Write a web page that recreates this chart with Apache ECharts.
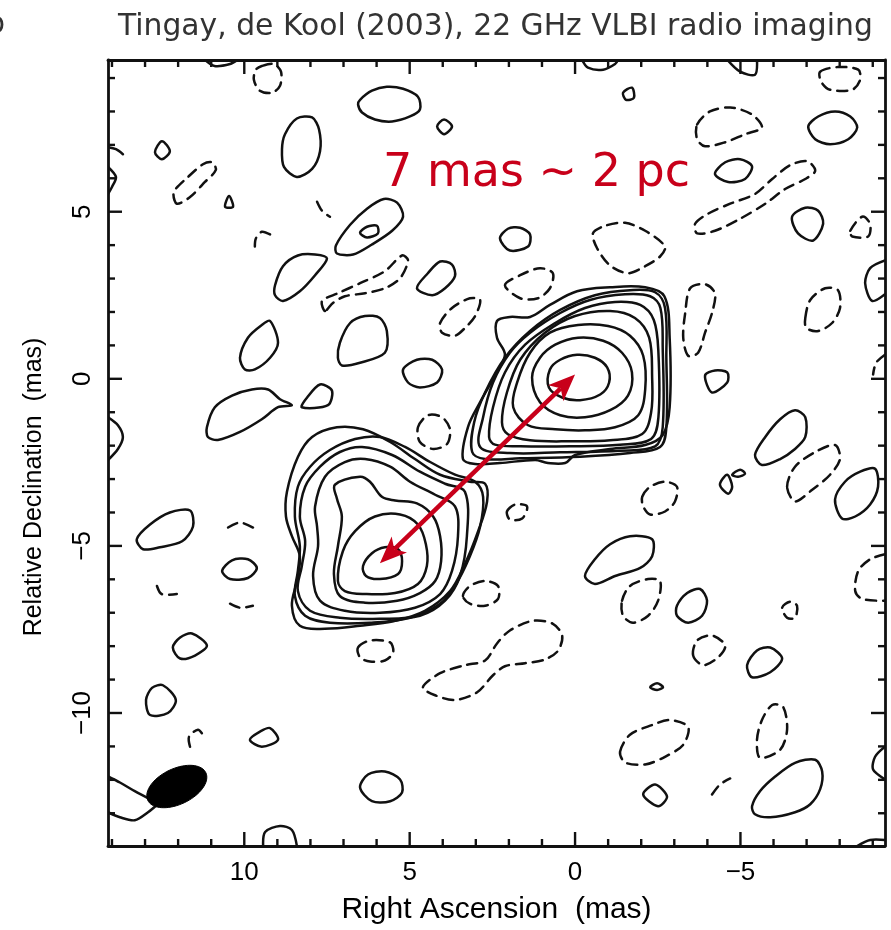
<!DOCTYPE html>
<html><head><meta charset="utf-8">
<script src="https://cdn.jsdelivr.net/npm/echarts@6/dist/echarts.min.js"></script>
<style>html,body{margin:0;padding:0;background:#fff}#c{width:891px;height:930px}</style>
</head><body><div id="c"></div>
<script>
// ---- axes (mas) ----
const raRange = [-9.37, 14.12];
const decRange = [-13.98, 9.54];
const raMajorTicks = [10, 5, 0, -5];
const raMinorTicks = [14,13,12,11,9,8,7,6,4,3,2,1,-1,-2,-3,-4,-6,-7,-8,-9];
const decMajorTicks = [5, 0, -5, -10];
const decMinorTicks = [9,8,7,6,4,3,2,1,-1,-2,-3,-4,-6,-7,-8,-9,-11,-12,-13];

// ---- texts ----
const titleText = 'Tingay, de Kool (2003), 22 GHz VLBI radio imaging';
const scaleText = '7 mas ~ 2 pc';
const raName = 'Right Ascension  (mas)';
const decName = 'Relative Declination  (mas)';

// ---- core contours (RA, Dec in mas) ----
const coreRings = [
 [[0.76,0.28],[0.45,0.57],[-0.06,0.72],[-0.6,0.63],[-0.97,0.34],[-1.03,-0.11],[-0.76,-0.47],[-0.15,-0.64],[0.39,-0.56],[0.79,-0.26]],
 [[1.3,0.04],[1.06,0.63],[0.6,1.02],[-0.09,1.23],[-0.85,1.14],[-1.42,0.78],[-1.72,0.19],[-1.6,-0.5],[-1.06,-0.94],[-0.3,-1.15],[0.45,-1.09],[1.06,-0.7]],
 [[1.87,-0.85],[1.75,-0.11],[1.36,0.78],[0.76,1.38],[-0.09,1.61],[-1.0,1.58],[-1.66,1.29],[-2.06,0.69],[-2.12,-0.32],[-1.91,-1.09],[-1.21,-1.45],[-0.3,-1.54],[0.6,-1.51],[1.42,-1.39]],
 [[2.21,-1.3],[2.06,-0.41],[1.66,0.57],[0.91,1.38],[0,1.88],[-1.06,2.03],[-1.81,1.82],[-2.24,1.23],[-2.33,0.04],[-2.3,-1.0],[-2.03,-1.65],[-1.06,-1.84],[0.15,-1.87],[1.36,-1.84],[2.03,-1.66]],
 [[2.6,-1.74],[2.48,-0.85],[2.12,0.19],[1.51,1.02],[0.6,1.67],[-0.3,2.12],[-1.21,2.3],[-1.97,2.21],[-2.38,1.76],[-2.52,0.78],[-2.52,-1.15],[-2.3,-1.8],[-1.36,-1.97],[0.15,-2.02],[1.66,-2.02],[2.42,-1.97]],
 [[2.87,-2.04],[2.78,-1.15],[2.48,-0.11],[1.97,0.78],[1.36,1.38],[0.45,1.97],[-0.45,2.36],[-1.51,2.53],[-2.27,2.47],[-2.58,2.12],[-2.65,0.93],[-2.65,-1.45],[-2.42,-2.02],[-1.36,-2.15],[0.45,-2.2],[1.97,-2.22]],
 [[3.11,-2.19],[3.05,-1.3],[2.72,-0.41],[2.12,0.63],[1.36,1.43],[0.45,2.06],[-0.6,2.5],[-1.66,2.65],[-2.42,2.59],[-2.72,2.12],[-2.76,0.63],[-2.76,-1.45],[-2.57,-2.04],[-1.66,-2.22],[-0.15,-2.33],[1.66,-2.38],[2.72,-2.4]],
 [[3.39,-2.4],[3.24,-1.45],[2.87,-0.7],[2.42,0.1],[2.12,0.72],[2.36,1.23],[2.36,1.73],[1.97,1.85],[1.36,1.85],[0.76,2.21],[-0.06,2.62],[-1.06,2.74],[-2.12,2.74],[-2.7,2.47],[-2.86,1.23],[-2.86,-0.85],[-2.65,-1.68],[-2.12,-1.98],[-1.06,-2.1],[0,-2.28],[0.3,-2.52],[0.82,-2.52],[1.21,-2.43],[2.27,-2.52],[3.02,-2.55]]
];

// ---- jet component contours ----
const jetRings = [
 [[6.41,-5.6],[6.14,-5.22],[5.75,-5.04],[5.35,-5.1],[5.23,-5.46],[5.35,-5.84],[5.9,-5.99],[6.32,-5.9]],
 [[7.17,-6.05],[7.02,-5.16],[6.65,-4.56],[6.05,-4.12],[5.29,-4.06],[4.75,-4.36],[4.51,-4.95],[4.48,-5.6],[4.75,-6.14],[5.44,-6.41],[6.35,-6.44],[6.96,-6.35]],
 [[7.26,-3.17],[6.5,-2.93],[6.2,-3.08],[5.84,-3.53],[5.44,-3.64],[4.78,-3.73],[4.29,-4.12],[4.08,-4.71],[4.05,-5.46],[4.23,-6.05],[4.69,-6.41],[5.38,-6.64],[6.35,-6.7],[7.11,-6.5],[7.29,-5.84],[7.17,-5.01],[7.05,-4.12],[7.2,-3.58]],
 [[7.86,-3.82],[7.56,-2.93],[6.96,-2.49],[6.35,-2.4],[5.59,-2.63],[4.99,-3.08],[4.23,-3.47],[3.63,-3.82],[3.54,-4.71],[3.72,-5.75],[4.08,-6.44],[4.84,-6.85],[5.9,-7.0],[6.96,-6.94],[7.71,-6.64],[7.92,-5.9],[7.77,-5.01],[7.8,-4.42]],
 [[8.32,-4.12],[8.16,-3.23],[7.71,-2.63],[7.11,-2.19],[6.44,-2.04],[5.53,-2.28],[4.69,-2.78],[3.93,-3.14],[3.33,-3.38],[3.27,-4.71],[3.48,-5.9],[3.93,-6.64],[4.69,-7.09],[5.9,-7.18],[7.11,-7.15],[8.01,-6.94],[8.38,-6.35],[8.26,-5.6],[8.16,-4.86]],
 [[8.47,-4.12],[8.38,-3.23],[8.01,-2.63],[7.41,-2.13],[6.65,-1.8],[5.9,-1.74],[5.14,-2.04],[4.38,-2.49],[3.63,-2.87],[3.02,-3.08],[2.78,-3.53],[2.87,-4.42],[3.18,-5.31],[3.63,-6.2],[4.08,-6.73],[4.99,-7.15],[6.2,-7.3],[7.41,-7.3],[8.16,-7.09],[8.47,-6.5],[8.38,-5.75],[8.32,-5.01]],
 [[8.71,-3.38],[8.38,-2.34],[7.95,-1.74],[7.2,-1.45],[6.41,-1.51],[5.59,-1.89],[4.84,-2.4],[4.08,-2.87],[3.18,-3.08],[2.72,-3.14],[2.66,-3.67],[2.93,-4.56],[3.33,-5.54],[3.78,-6.35],[4.54,-6.94],[5.44,-7.24],[6.5,-7.39],[7.56,-7.48],[8.32,-7.39],[8.56,-6.79],[8.41,-6.05],[8.32,-5.31],[8.56,-4.71],[8.74,-4.12]]
];

// ---- isolated positive (solid) contours ----
const positiveIslands = [
 [[6.5,8.35],[6.14,8.62],[5.69,8.74],[5.2,8.68],[4.75,8.44],[4.69,8.06],[4.99,7.85],[5.53,7.7],[6.05,7.76],[6.44,7.97],[6.56,8.21]],
 [[4.17,7.55],[3.96,7.76],[3.72,7.55],[3.96,7.32]],
 [[8.77,7.32],[8.41,7.79],[7.95,7.82],[7.74,7.46],[7.71,6.81],[7.95,6.28],[8.41,6.04],[8.8,6.34],[8.86,6.87]],
 [[12.7,6.78],[12.49,7.11],[12.25,6.81],[12.49,6.57]],
 [[10.58,5.15],[10.46,5.47],[10.34,5.15]],
 [[7.23,3.99],[6.8,4.61],[6.29,5.09],[5.78,5.38],[5.38,5.27],[5.2,4.85],[5.53,4.43],[6.14,4.02],[6.71,3.72],[7.2,3.75]],
 [[6.5,4.37],[6.29,4.55],[5.99,4.58],[5.96,4.35],[6.29,4.23]],
 [[9.07,2.8],[8.83,3.37],[8.38,3.69],[7.86,3.72],[7.5,3.6],[7.86,3.1],[8.32,2.62],[8.83,2.33],[9.07,2.5]],
 [[4.78,2.71],[4.45,3.16],[4.08,3.51],[3.72,3.42],[3.63,3.07],[3.93,2.71],[4.32,2.5]],
 [[10.13,0.63],[9.89,1.23],[9.47,1.61],[9.22,1.73],[8.98,1.08],[9.22,0.63],[9.68,0.28],[9.98,0.28]],
 [[7.11,1.08],[6.8,1.67],[6.35,1.88],[5.9,1.82],[5.69,1.43],[5.75,0.78],[6.5,0.48],[7.05,0.4],[7.17,0.63]],
 [[-1.45,8.56],[-1.72,8.71],[-1.78,8.41],[-1.54,8.35]],
 [[-7.05,7.55],[-7.35,7.85],[-7.86,8.0],[-8.32,7.85],[-8.53,7.52],[-8.26,7.17],[-7.71,7.02],[-7.26,7.17]],
 [[-4.23,6.13],[-4.54,6.48],[-4.99,6.57],[-5.35,6.36],[-5.14,5.98],[-4.63,5.89]],
 [[-6.56,4.85],[-6.96,5.12],[-7.35,5.03],[-7.5,4.64],[-7.2,4.14],[-6.74,4.35]],
 [[2.27,4.2],[2.03,4.49],[1.66,4.52],[1.36,4.32],[1.42,3.96],[1.97,3.84]],
 [[11.13,-1.45],[10.89,-0.85],[10.37,-0.5],[9.77,-0.32],[9.28,-0.32],[8.92,-0.61],[8.56,-0.79],[8.98,-0.85],[9.47,-1.21],[10.13,-1.59],[10.8,-1.83],[11.1,-1.74]],
 [[8.26,-0.85],[8.1,-0.56],[7.71,-0.17],[7.35,-0.35],[7.47,-0.79]],
 [[5.2,0.28],[4.78,0.57],[4.32,0.57],[4.02,0.28],[4.17,-0.11],[4.69,-0.26],[5.05,-0.11]],
 [[13.25,-4.8],[12.85,-4.36],[12.25,-4.0],[11.64,-3.94],[11.55,-4.42],[11.88,-4.86],[12.55,-5.04],[13.06,-5.1]],
 [[10.67,-5.75],[10.37,-5.43],[9.89,-5.4],[9.62,-5.66],[9.89,-5.96],[10.43,-5.99]],
 [[-3.93,0.1],[-4.23,0.25],[-4.6,0.19],[-4.6,-0.11],[-4.14,-0.41]],
 [[-5.44,-2.28],[-5.75,-1.74],[-6.2,-1.21],[-6.65,-0.94],[-6.96,-1.15],[-6.96,-1.74],[-6.65,-2.1],[-6.2,-2.4],[-5.65,-2.58]],
 [[-4.38,-3.17],[-4.6,-2.87],[-4.75,-3.23],[-4.63,-3.44]],
 [[-4.75,-2.87],[-4.99,-2.72],[-5.14,-2.84],[-4.93,-2.93]],
 [[-7.86,-3.61],[-8.16,-3.08],[-8.62,-2.78],[-9.07,-2.69],[-9.16,-3.23],[-8.92,-3.76],[-8.47,-4.12],[-8.07,-4.18]],
 [[-0.3,-5.9],[-0.6,-5.4],[-1.06,-4.95],[-1.66,-4.71],[-2.33,-4.8],[-2.33,-5.31],[-1.97,-5.66],[-1.21,-5.9],[-0.6,-6.14]],
 [[-3.08,-6.79],[-3.39,-6.41],[-3.78,-6.29],[-3.99,-6.64],[-3.84,-7.09],[-3.42,-7.3],[-3.08,-7.09]],
 [[-5.2,-8.57],[-5.5,-8.13],[-5.9,-8.04],[-6.26,-8.37],[-5.9,-8.78],[-5.35,-8.93]],
 [[-2.27,-9.23],[-2.48,-9.11],[-2.66,-9.23],[-2.48,-9.31]],
 [[-2.06,-12.44],[-2.42,-12.14],[-2.78,-12.5],[-2.51,-12.79]],
 [[-5.35,-12.79],[-5.59,-12.34],[-6.05,-11.9],[-6.65,-11.49],[-7.26,-11.4],[-7.47,-11.75],[-7.41,-12.28],[-7.11,-12.73],[-6.65,-12.97],[-5.9,-13.12],[-5.44,-13.03]],
 [[12.16,-8.04],[11.94,-7.74],[11.58,-7.62],[11.13,-7.98],[11.49,-8.28],[11.94,-8.37]],
 [[12.97,-9.61],[12.79,-9.25],[12.46,-9.17],[12.07,-9.61],[12.31,-10.0],[12.85,-10.06]],
 [[9.83,-10.8],[9.53,-10.56],[9.22,-10.45],[8.98,-10.8],[9.47,-11.01]],
 [[6.5,-12.23],[6.26,-11.84],[5.75,-11.75],[5.29,-11.99],[5.23,-12.38],[5.59,-12.64],[6.14,-12.64]]
];

// ---- isolated negative (dashed) contours ----
const negativeIslands = [
 [[9.47,9.36],[9.1,9.42],[8.89,9.19],[8.92,8.77],[9.16,8.56],[9.53,8.62],[9.71,8.95],[9.65,9.25]],
 [[12.04,5.24],[12.13,5.59],[11.7,6.04],[11.25,6.42],[10.98,6.48],[10.86,6.25],[11.19,5.89],[11.64,5.44]],
 [[7.56,2.03],[7.65,2.33],[7.17,2.56],[6.5,2.86],[5.75,3.22],[5.23,3.69],[5.05,3.54],[5.29,3.01],[5.75,2.71],[6.35,2.56],[6.96,2.47],[7.32,2.27]],
 [[4.08,1.67],[3.72,2.12],[3.18,2.41],[2.87,2.36],[3.02,1.88],[3.33,1.52],[3.63,1.29],[4.02,1.38]],
 [[-7.41,9.19],[-7.95,9.33],[-8.56,9.25],[-8.62,8.95],[-8.38,8.65],[-7.71,8.65],[-7.44,8.89]],
 [[-3.69,7.61],[-4.08,8.0],[-4.69,8.12],[-5.35,7.91],[-5.65,7.52],[-5.14,7.32],[-4.54,7.08],[-3.93,6.96],[-3.69,7.17]],
 [[-3.63,4.64],[-4.02,4.94],[-4.69,5.24],[-5.44,5.53],[-5.96,5.98],[-6.5,6.39],[-7.02,6.51],[-7.26,6.22],[-6.96,5.98],[-6.35,5.68],[-5.75,5.24],[-4.99,4.79],[-4.23,4.43],[-3.69,4.35]],
 [[-8.32,4.43],[-8.68,4.85],[-8.92,4.64],[-8.86,4.26],[-8.38,4.26]],
 [[-0.54,4.35],[-0.91,4.58],[-1.51,4.67],[-2.12,4.43],[-2.72,3.96],[-2.57,3.66],[-2.12,3.37],[-1.6,3.16],[-1.06,3.39],[-0.67,3.9]],
 [[2.12,2.8],[1.66,3.1],[1.06,3.31],[0.67,3.16],[0.76,2.71],[1.12,2.41],[1.66,2.41]],
 [[-3.48,2.71],[-3.93,2.83],[-4.23,2.56],[-4.14,1.97],[-3.93,1.38],[-3.72,0.78],[-3.42,0.69],[-3.27,1.23],[-3.33,1.97]],
 [[-6.96,1.82],[-7.11,2.36],[-7.56,2.71],[-7.95,2.65],[-8.01,2.12],[-7.77,1.67],[-7.35,1.43],[-6.99,1.52]],
 [[4.75,-1.45],[4.45,-1.09],[4.02,-1.15],[3.78,-1.51],[3.87,-1.95],[4.29,-2.1],[4.69,-1.89]],
 [[3.39,-6.5],[3.18,-6.2],[2.72,-6.05],[2.33,-6.2],[2.33,-6.59],[2.72,-6.79],[3.18,-6.73]],
 [[-6.41,-3.23],[-6.65,-2.63],[-7.26,-2.19],[-7.86,-1.98],[-8.01,-2.4],[-7.71,-2.87],[-7.17,-3.32],[-6.65,-3.67]],
 [[-2.03,-3.53],[-2.27,-3.23],[-2.72,-3.08],[-3.08,-3.23],[-3.02,-3.67],[-2.72,-3.97],[-2.27,-4.06],[-2.06,-3.82]],
 [[2.06,-3.97],[1.81,-3.76],[1.45,-3.82],[1.6,-4.18],[1.97,-4.21]],
 [[-1.42,-6.64],[-1.66,-6.2],[-2.21,-5.99],[-2.57,-6.05],[-2.51,-6.64],[-2.21,-7.09],[-1.75,-7.3],[-1.45,-7.09]],
 [[-6.26,-6.85],[-6.5,-6.67],[-6.71,-6.79],[-6.65,-7.15],[-6.41,-7.15]],
 [[4.6,-9.23],[4.08,-8.81],[3.33,-8.57],[2.72,-8.43],[2.36,-7.92],[1.97,-7.53],[1.27,-7.24],[0.67,-7.33],[0.39,-7.68],[0.51,-8.13],[0.91,-8.4],[1.51,-8.51],[2.12,-8.6],[2.48,-8.87],[2.96,-9.38],[3.63,-9.61],[4.23,-9.47]],
 [[-3.57,-8.28],[-3.69,-7.83],[-4.14,-7.68],[-4.54,-7.98],[-4.32,-8.34],[-3.87,-8.57]],
 [[-1.36,-11.16],[-1.66,-10.65],[-2.33,-10.36],[-2.87,-10.21],[-3.42,-10.42],[-3.27,-10.95],[-2.72,-11.31],[-2.12,-11.54],[-1.51,-11.48]],
 [[-5.5,-10.8],[-5.65,-10.21],[-5.96,-9.76],[-6.29,-9.82],[-6.41,-10.5],[-6.2,-11.1],[-5.59,-11.34]],
 [[6.56,-8.04],[6.2,-7.83],[5.59,-7.89],[5.5,-8.19],[5.75,-8.43],[6.2,-8.46],[6.5,-8.34]]
];

// ---- open contour pieces (cut by the map edge or fragmentary) ----
const positiveOpen = [
 [[11.2,9.55],[10.9,9.36],[10.43,9.42],[10.2,9.55]],
 [[14.12,6.93],[13.88,6.87],[13.67,6.72]],
 [[14.12,6.34],[13.88,6.04],[14.0,5.74],[14.12,5.53]],
 [[-0.21,9.55],[-0.39,9.31],[-0.85,9.25],[-1.21,9.42],[-1.3,9.55]],
 [[-4.6,9.55],[-4.99,9.19],[-5.44,9.1],[-5.5,9.55]],
 [[-9.37,3.54],[-8.92,3.31],[-8.77,2.86],[-8.98,2.33],[-9.37,2.53]],
 [[14.12,-1.15],[13.82,-1.39],[13.67,-1.74],[13.82,-2.1],[14.12,-2.43]],
 [[-9.37,-11.01],[-9.07,-11.31],[-9.01,-11.69],[-9.37,-11.99]],
 [[-8.53,-13.98],[-8.92,-13.8],[-9.37,-13.8]],
 [[14.12,-11.9],[13.76,-12.08],[13.31,-12.34],[12.85,-12.58]],
 [[14.12,-12.97],[13.76,-13.12],[13.31,-13.21],[12.91,-12.97],[12.55,-12.67]],
 [[9.43,-13.98],[9.37,-13.56],[8.92,-13.38],[8.56,-13.5],[8.41,-13.98]]
];
const negativeOpen = [
 [[7.8,5.3],[7.65,5.03],[7.41,4.85]],
 [[9.22,4.32],[9.47,4.4],[9.65,4.2],[9.68,3.96]],
 [[10.49,-4.45],[10.13,-4.3],[9.68,-4.48]],
 [[12.64,-6.2],[12.5,-6.44],[12.04,-6.44]],
 [[10.43,-6.73],[10.13,-6.85],[9.74,-6.79]],
 [[-9.37,0.72],[-9.1,0.48],[-9.01,0.13]],
 [[-9.37,-5.25],[-8.92,-5.4],[-8.56,-5.75],[-8.47,-6.35],[-8.68,-6.59],[-9.37,-6.64]],
 [[-4.14,-12.44],[-4.38,-12.14],[-4.69,-11.96]],
 [[11.64,-11.01],[11.67,-10.71],[11.4,-10.5],[11.25,-10.65]]
];

// ---- restoring beam and scale arrow ----
const beam = { ra: 12.04, dec: -12.2, major: 1.94, minor: 1.07, pa: -65 };
const arrowEnds = [[0.0, 0.13], [5.9, -5.52]];

const INK = '#111';
const RED = '#c8001a';

function contourSeries(name, polys, closed, dashed, smooth) {
  return {
    type: 'custom', name: name, coordinateSystem: 'cartesian2d', clip: true, silent: true, animation: false, z: 3,
    data: polys.map(p => p[0]),
    renderItem: function (params, api) {
      const pts = polys[params.dataIndex].map(p => api.coord(p));
      return {
        type: closed ? 'polygon' : 'polyline',
        shape: { points: pts, smooth: smooth },
        style: { fill: 'none', stroke: INK, lineWidth: 2.5, lineDash: dashed ? [10, 7] : null, lineJoin: 'round', lineCap: 'round' }
      };
    }
  };
}

const tickItems = [];
raMajorTicks.forEach(v => { tickItems.push([v, 0, 1]); tickItems.push([v, 1, 1]); });
raMinorTicks.forEach(v => { tickItems.push([v, 0, 0]); tickItems.push([v, 1, 0]); });
decMajorTicks.forEach(v => { tickItems.push([v, 2, 1]); tickItems.push([v, 3, 1]); });
decMinorTicks.forEach(v => { tickItems.push([v, 2, 0]); tickItems.push([v, 3, 0]); });

const fmt = v => (v < 0 ? '\u2212' + Math.abs(v) : String(v));
const axisLine = { show: true, onZero: false, lineStyle: { color: INK, width: 2.8 } };
const labelFont = 'Liberation Sans, Arial, Helvetica, sans-serif';

const option = {
  backgroundColor: '#fff',
  animation: false,
  title: [
    { text: titleText, left: 118, top: 12, padding: 0, textStyle: { fontFamily: 'DejaVu Sans', fontSize: 29.8, fontWeight: 'normal', color: '#333' } },
    { text: scaleText, left: 383, top: 151, padding: 0, textStyle: { fontFamily: 'DejaVu Sans', fontSize: 46, fontWeight: 'normal', color: RED } },
    { text: 'b', left: -14, top: 10, padding: 0, textStyle: { fontFamily: 'DejaVu Sans', fontSize: 30, fontWeight: 'normal', color: '#333' } }
  ],
  grid: { left: 108, right: 6, top: 60, bottom: 78, containLabel: false },
  xAxis: [
    { type: 'value', inverse: true, min: raRange[0], max: raRange[1], position: 'bottom', axisLine: axisLine,
      axisTick: { show: false }, splitLine: { show: false },
      axisLabel: { customValues: raMajorTicks, hideOverlap: false,
        formatter: v => raMajorTicks.includes(v) ? fmt(v) : '', fontSize: 26, fontFamily: labelFont, color: '#000', margin: 14 },
      name: raName, nameLocation: 'middle', nameGap: 49, nameTextStyle: { fontSize: 30, fontFamily: labelFont, color: '#000' } },
    { type: 'value', inverse: true, min: raRange[0], max: raRange[1], position: 'top', axisLine: axisLine,
      axisTick: { show: false }, splitLine: { show: false }, axisLabel: { show: false } }
  ],
  yAxis: [
    { type: 'value', min: decRange[0], max: decRange[1], position: 'left', axisLine: axisLine,
      axisTick: { show: false }, splitLine: { show: false },
      axisLabel: { customValues: decMajorTicks, hideOverlap: false, rotate: 90,
        formatter: v => decMajorTicks.includes(v) ? fmt(v) : '', fontSize: 26, fontFamily: labelFont, color: '#000', margin: 12 },
      name: decName, nameLocation: 'middle', nameRotate: 90, nameGap: 61,
      nameTextStyle: { fontSize: 25, fontFamily: labelFont, color: '#000', padding: [0, 68, 0, 0] } },
    { type: 'value', min: decRange[0], max: decRange[1], position: 'right', axisLine: axisLine,
      axisTick: { show: false }, splitLine: { show: false }, axisLabel: { show: false } }
  ],
  series: [
    contourSeries('core', coreRings, true, false, 0.35),
    contourSeries('jet', jetRings, true, false, 0.35),
    contourSeries('positive', positiveIslands, true, false, 0.3),
    contourSeries('negative', negativeIslands, true, true, 0.3),
    contourSeries('positive edge', positiveOpen, false, false, 0.3),
    contourSeries('negative edge', negativeOpen, false, true, 0.3),
    {
      type: 'custom', name: 'beam', coordinateSystem: 'cartesian2d', silent: true, animation: false, z: 4,
      data: [[beam.ra, beam.dec]],
      renderItem: function (params, api) {
        const pa = beam.pa * Math.PI / 180, a = beam.major / 2, b = beam.minor / 2, pts = [];
        for (let k = 0; k < 72; k++) {
          const t = 2 * Math.PI * k / 72, ca = a * Math.cos(t), sb = b * Math.sin(t);
          pts.push(api.coord([beam.ra + ca * Math.sin(pa) + sb * Math.cos(pa), beam.dec + ca * Math.cos(pa) - sb * Math.sin(pa)]));
        }
        return { type: 'polygon', shape: { points: pts }, style: { fill: '#000', stroke: '#000', lineWidth: 1 } };
      }
    },
    {
      type: 'custom', name: 'ticks', coordinateSystem: 'cartesian2d', silent: true, animation: false, z: 5,
      data: tickItems,
      renderItem: function (params, api) {
        const v = api.value(0), side = api.value(1), len = api.value(2) ? 14 : 7;
        let p, q;
        if (side === 0) { p = api.coord([v, decRange[0]]); q = [p[0], p[1] - len]; }
        else if (side === 1) { p = api.coord([v, decRange[1]]); q = [p[0], p[1] + len]; }
        else if (side === 2) { p = api.coord([raRange[1], v]); q = [p[0] + len, p[1]]; }
        else { p = api.coord([raRange[0], v]); q = [p[0] - len, p[1]]; }
        return { type: 'line', shape: { x1: p[0], y1: p[1], x2: q[0], y2: q[1] }, style: { stroke: INK, lineWidth: 2.4 } };
      }
    },
    {
      type: 'custom', name: 'scale arrow', coordinateSystem: 'cartesian2d', silent: true, animation: false, z: 6,
      data: [arrowEnds[0]],
      renderItem: function (params, api) {
        const A = api.coord(arrowEnds[0]), B = api.coord(arrowEnds[1]);
        const dx = B[0] - A[0], dy = B[1] - A[1], L = Math.hypot(dx, dy), ux = dx / L, uy = dy / L, nx = -uy, ny = ux;
        const hl = 27, hw = 11, notch = 7;
        const head = (T, sx, sy) => [T,
          [T[0] + sx * hl + nx * hw, T[1] + sy * hl + ny * hw],
          [T[0] + sx * (hl - notch), T[1] + sy * (hl - notch)],
          [T[0] + sx * hl - nx * hw, T[1] + sy * hl - ny * hw]];
        return { type: 'group', children: [
          { type: 'line', shape: { x1: A[0] + ux * (hl - notch), y1: A[1] + uy * (hl - notch), x2: B[0] - ux * (hl - notch), y2: B[1] - uy * (hl - notch) }, style: { stroke: RED, lineWidth: 4.5 } },
          { type: 'polygon', shape: { points: head(A, ux, uy) }, style: { fill: RED } },
          { type: 'polygon', shape: { points: head(B, -ux, -uy) }, style: { fill: RED } }
        ] };
      }
    }
  ]
};
const chart = echarts.init(document.getElementById('c'), null, { renderer: 'canvas' });
chart.setOption(option);
</script>
</body></html>
